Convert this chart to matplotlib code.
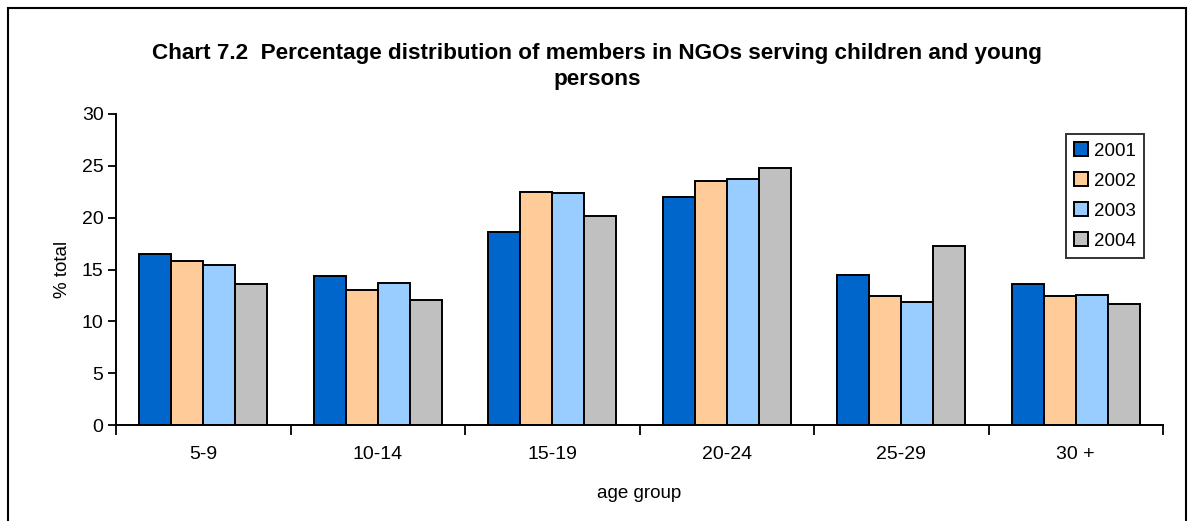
import numpy as np
import matplotlib.pyplot as plt
from matplotlib.patches import Rectangle

plt.rcParams['font.family'] = ['Liberation Sans', 'DejaVu Sans']

# data
age_groups = ['5-9', '10-14', '15-19', '20-24', '25-29', '30 +']
years = ['2001', '2002', '2003', '2004']
pct_2001 = [16.5, 14.4, 18.6, 22.0, 14.5, 13.6]
pct_2002 = [15.8, 13.0, 22.5, 23.5, 12.4, 12.4]
pct_2003 = [15.4, 13.7, 22.4, 23.7, 11.9, 12.5]
pct_2004 = [13.6, 12.1, 20.2, 24.8, 17.3, 11.7]
colors = ['#0066CC', '#FFCC99', '#99CCFF', '#C0C0C0']

fig = plt.figure(figsize=(11.94, 5.21), dpi=100)
ax = fig.add_axes([116/1194, 1 - 425/521, (1163 - 116)/1194, (425 - 114)/521])

x = np.arange(len(age_groups))
w = 0.183
series = [pct_2001, pct_2002, pct_2003, pct_2004]
for i, vals in enumerate(series):
    ax.bar(x + (i - 1.5) * w, vals, width=w, color=colors[i],
           edgecolor='black', linewidth=1.4, label=years[i])

ax.set_xlim(-0.5, len(age_groups) - 0.5)
ax.set_ylim(0, 30)
ax.set_yticks(np.arange(0, 31, 5))
ax.set_xticks(x)
ax.set_xticklabels(age_groups)
ax.set_xticks(np.arange(-0.5, len(age_groups)), minor=True)
ax.tick_params(axis='x', which='major', length=0, labelsize=14, pad=15)
ax.tick_params(axis='x', which='minor', length=7, width=1.3, direction='out')
ax.tick_params(axis='y', length=6, width=1.3, labelsize=14, pad=3)

for s in ['top', 'right']:
    ax.spines[s].set_visible(False)
for s in ['left', 'bottom']:
    ax.spines[s].set_linewidth(1.4)

ax.set_xlabel('age group', fontsize=13.5, labelpad=16)
ax.set_ylabel('% total', fontsize=13.5, labelpad=8)

fig.text(0.5, 1 - 54/521, 'Chart 7.2  Percentage distribution of members in NGOs serving children and young',
         ha='center', va='center', fontsize=16.2, fontweight='bold')
fig.text(0.5, 1 - 79/521, 'persons', ha='center', va='center', fontsize=16.2, fontweight='bold')

leg = ax.legend(loc='upper left', bbox_to_anchor=(1066/1194, 1 - 134/521),
                bbox_transform=fig.transFigure, fontsize=13.5, frameon=True,
                fancybox=False, edgecolor='black', handlelength=0.72, handleheight=0.72,
                handletextpad=0.3, labelspacing=0.68, borderpad=0.45, borderaxespad=0)
leg.get_frame().set_linewidth(1.4)

fig.patches.append(Rectangle((8/1194, -0.1), (1186 - 8)/1194, 1.1 - 8/521,
                             transform=fig.transFigure, fill=False,
                             edgecolor='black', linewidth=1.5))

fig.savefig('out.png', dpi=100)
